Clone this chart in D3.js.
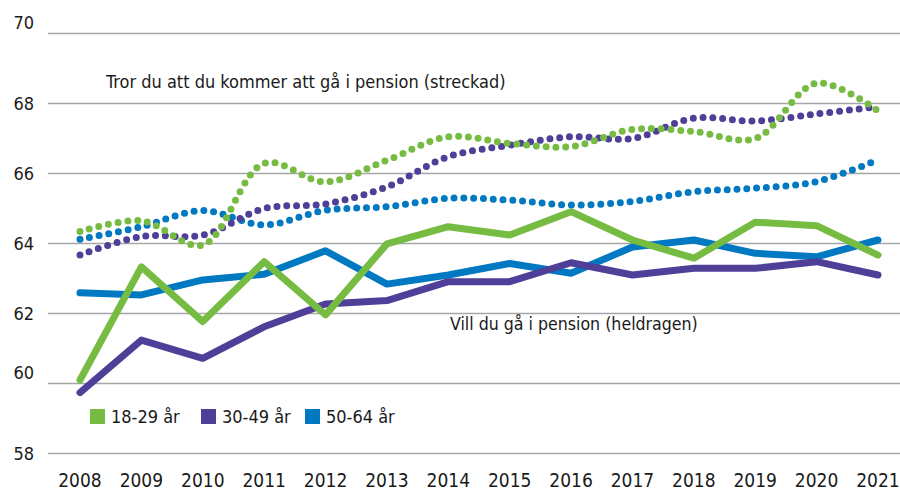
<!DOCTYPE html>
<html>
<head>
<meta charset="utf-8">
<script src="https://cdn.jsdelivr.net/npm/d3@7"></script>
<style>
  body { margin: 0; background: #fff; }
  svg text { font-family: "DejaVu Sans Condensed", "Liberation Sans Narrow", sans-serif; fill: #1a1a1a; }
</style>
</head>
<body>
<svg id="chart" width="900" height="492"></svg>
<script>
// år
const years = [2008, 2009, 2010, 2011, 2012, 2013, 2014, 2015, 2016, 2017, 2018, 2019, 2020, 2021];
const yTicks = [58, 60, 62, 64, 66, 68, 70];

// Vill du gå i pension (heldragen)
const vill18_29 = [60.1, 63.33, 61.77, 63.48, 61.96, 63.99, 64.48, 64.24, 64.91, 64.1, 63.58, 64.61, 64.51, 63.67];
const vill30_49 = [59.74, 61.24, 60.72, 61.62, 62.27, 62.37, 62.91, 62.91, 63.45, 63.1, 63.29, 63.29, 63.48, 63.1];
const vill50_64 = [62.59, 62.53, 62.96, 63.12, 63.79, 62.84, 63.1, 63.43, 63.15, 63.9, 64.1, 63.72, 63.62, 64.1];

// Tror du att du kommer att gå i pension (streckad)
const tror18_29 = [64.34, 64.65, 63.96, 66.29, 65.76, 66.38, 67.05, 66.86, 66.77, 67.26, 67.2, 67.0, 68.58, 67.79];
const tror30_49 = [63.67, 64.2, 64.24, 65.0, 65.13, 65.62, 66.48, 66.81, 67.05, 67.0, 67.58, 67.5, 67.7, 67.91];
const tror50_64 = [64.12, 64.48, 64.94, 64.53, 64.95, 65.05, 65.29, 65.24, 65.1, 65.2, 65.48, 65.58, 65.77, 66.39];

const groups = ["18-29 år", "30-49 år", "50-64 år"];
const colors = ["#76bc43", "#4f3f98", "#0079c2"];

const svg = d3.select("#chart");

const x = d3.scaleLinear().domain([2008, 2021]).range([80, 878]);
const y = d3.scaleLinear().domain([58, 70]).range([453.5, 33.5]);

// rutnät
svg.append("g")
  .selectAll("line")
  .data(yTicks)
  .join("line")
    .attr("x1", 48)
    .attr("x2", 900)
    .attr("y1", d => y(d))
    .attr("y2", d => y(d))
    .attr("stroke", "#a6a6a6")
    .attr("stroke-width", 1.5);

// y-etiketter
svg.append("g")
  .selectAll("text")
  .data(yTicks)
  .join("text")
    .attr("x", 34)
    .attr("y", d => y(d) + ((d === 60 || d === 70) ? -10.5 : 0))
    .attr("dy", "0.35em")
    .attr("text-anchor", "end")
    .attr("font-size", 18)
    .text(d => d);

// x-etiketter
svg.append("g")
  .selectAll("text")
  .data(years)
  .join("text")
    .attr("x", d => x(d))
    .attr("y", 487)
    .attr("text-anchor", "middle")
    .attr("font-size", 19)
    .text(d => d);

const solid = d3.line()
  .x((d, i) => x(years[i]))
  .y(d => y(d));

const smooth = d3.line()
  .x((d, i) => x(years[i]))
  .y(d => y(d))
  .curve(d3.curveCatmullRom.alpha(0.5));

const vill = [vill18_29, vill30_49, vill50_64];
const tror = [tror18_29, tror30_49, tror50_64];
const order = [2, 1, 0];

// heldragna linjer
svg.append("g")
  .selectAll("path")
  .data(order)
  .join("path")
    .attr("d", i => solid(vill[i]))
    .attr("fill", "none")
    .attr("stroke", i => colors[i])
    .attr("stroke-width", 7)
    .attr("stroke-linejoin", "round")
    .attr("stroke-linecap", "round");

// prickade linjer
svg.append("g")
  .selectAll("path")
  .data(order)
  .join("path")
    .attr("d", i => smooth(tror[i]))
    .attr("fill", "none")
    .attr("stroke", i => colors[i])
    .attr("stroke-width", 7)
    .attr("stroke-linecap", "round")
    .attr("stroke-dasharray", "0 9.8");

// anteckningar
svg.append("text")
  .attr("x", 106)
  .attr("y", 88)
  .attr("font-size", 18)
  .text("Tror du att du kommer att gå i pension (streckad)");

svg.append("text")
  .attr("x", 450)
  .attr("y", 330)
  .attr("font-size", 17.6)
  .text("Vill du gå i pension (heldragen)");

// förklaring
const legendX = [90, 201, 305];
const legend = svg.append("g")
  .selectAll("g")
  .data(groups)
  .join("g")
    .attr("transform", (d, i) => `translate(${legendX[i]},409)`);

legend.append("rect")
  .attr("width", 15)
  .attr("height", 15)
  .attr("fill", (d, i) => colors[i]);

legend.append("text")
  .attr("x", 21)
  .attr("y", 14)
  .attr("font-size", 18)
  .text(d => d);
</script>
</body>
</html>
